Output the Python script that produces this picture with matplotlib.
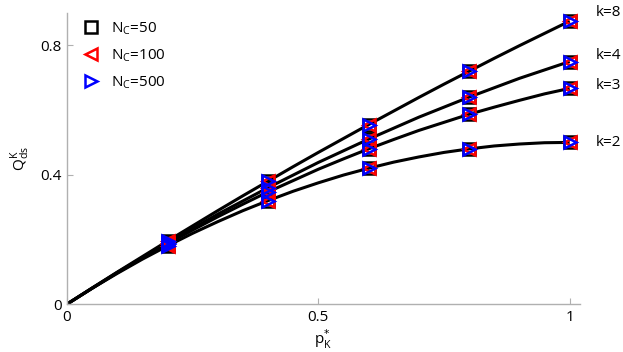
import matplotlib
matplotlib.use("Agg")
import matplotlib.pyplot as plt

plt.rcParams['font.family'] = ['Open Sans', 'DejaVu Sans']

# curve samples
p_curve = [0.0, 0.05, 0.1, 0.15, 0.2, 0.25, 0.3, 0.35, 0.4, 0.45, 0.5,
           0.55, 0.6, 0.65, 0.7, 0.75, 0.8, 0.85, 0.9, 0.95, 1.0]
curves = {
    "k=2": [0.0, 0.049, 0.095, 0.139, 0.18, 0.219, 0.255, 0.289, 0.32, 0.349, 0.375,
            0.399, 0.42, 0.439, 0.455, 0.469, 0.48, 0.489, 0.495, 0.499, 0.50],
    "k=3": [0.0, 0.049, 0.097, 0.142, 0.187, 0.229, 0.27, 0.309, 0.347, 0.382, 0.417,
            0.449, 0.48, 0.509, 0.537, 0.562, 0.587, 0.609, 0.63, 0.65, 0.667],
    "k=4": [0.0, 0.049, 0.098, 0.144, 0.19, 0.234, 0.278, 0.319, 0.36, 0.399, 0.438,
            0.474, 0.51, 0.544, 0.578, 0.609, 0.64, 0.669, 0.698, 0.724, 0.75],
    "k=8": [0.0, 0.05, 0.099, 0.147, 0.195, 0.242, 0.289, 0.335, 0.38, 0.425, 0.469,
            0.512, 0.555, 0.597, 0.639, 0.68, 0.72, 0.76, 0.799, 0.837, 0.875],
}

# marker points
p_mark = [0.2, 0.4, 0.6, 0.8, 1.0]
marks = {
    "k=2": [0.18, 0.32, 0.42, 0.48, 0.50],
    "k=3": [0.187, 0.347, 0.48, 0.587, 0.667],
    "k=4": [0.19, 0.36, 0.51, 0.64, 0.75],
    "k=8": [0.195, 0.38, 0.555, 0.72, 0.875],
}
series = ["N$_\\mathregular{C}$=50", "N$_\\mathregular{C}$=100", "N$_\\mathregular{C}$=500"]
label_y = {"k=8": 0.903, "k=4": 0.77, "k=3": 0.675, "k=2": 0.50}

fig = plt.figure(figsize=(6.23, 3.52), dpi=100)
ax = fig.add_axes([0.1075, 0.136, 0.823, 0.827])

for k, vals in curves.items():
    ax.plot(p_curve, vals, color='black', lw=2.2, zorder=2, solid_capstyle='butt')

styles = [dict(marker='s', color='black'), dict(marker='<', color='red'), dict(marker='>', color='blue')]
for i, (lab, st) in enumerate(zip(series, styles)):
    first = True
    for k, vals in marks.items():
        ax.plot(p_mark, vals, linestyle='none', marker=st['marker'], markersize=9,
                markerfacecolor='none', markeredgecolor=st['color'], markeredgewidth=1.8,
                label=lab if first else None, zorder=3 + i)
        first = False

for k, y in label_y.items():
    ax.text(1.052, y, k, transform=ax.transData, fontsize=11, va='center', ha='left', clip_on=False)

ax.set_xlim(0, 1.02)
ax.set_ylim(0, 0.9)
ax.set_xticks([0, 0.5, 1])
ax.set_xticklabels(['0', '0.5', '1'])
ax.set_yticks([0, 0.4, 0.8])
ax.set_yticklabels(['0', '0.4', '0.8'])
for s in ['top', 'right']:
    ax.spines[s].set_visible(False)
for s in ['left', 'bottom']:
    ax.spines[s].set_color('#b0b0b0')
    ax.spines[s].set_linewidth(1.0)
ax.tick_params(direction='in', color='#b0b0b0', length=4, labelsize=11, pad=4)

ax.set_xlabel("p$^{*}_{\\mathregular{K}}$", fontsize=11, labelpad=2)
ax.set_ylabel("Q$^{\\mathregular{K}}_{\\mathregular{ds}}$", fontsize=11, labelpad=6)

leg = ax.legend(loc='upper left', frameon=False, fontsize=11, handletextpad=0.8,
                labelspacing=0.65, borderaxespad=0.0, handlelength=1.0,
                bbox_to_anchor=(0.02, 0.995))

fig.savefig('out.png', dpi=100)
